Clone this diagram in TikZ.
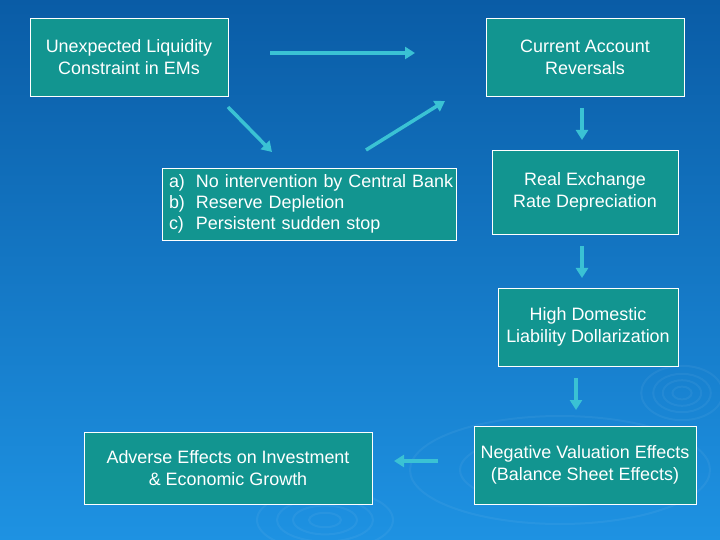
\documentclass[tikz,border=0pt]{standalone}
\usepackage{fontspec}
\setmainfont{Liberation Sans}
\usetikzlibrary{arrows.meta}
\definecolor{bgtop}{HTML}{0A5CA6}
\definecolor{bgbot}{HTML}{1E92E2}
\definecolor{boxfill}{HTML}{129590}
\definecolor{arrowc}{HTML}{3AC2D4}
\tikzset{
  box/.style={draw=white, line width=0.8bp, fill=boxfill, text=white, align=center,
    font=\fontsize{18}{22}\selectfont, inner sep=0pt},
  flow/.style={draw=arrowc, line width=3.5bp, -{Triangle[width=12bp,length=10bp]}},
  ripple/.style={draw=white, opacity=0.05, line width=2bp}
}
\begin{document}
\begin{tikzpicture}[x=1bp,y=-1bp]
\shade[top color=bgtop, bottom color=bgbot] (0,0) rectangle (720,540);
\useasboundingbox (0,0) rectangle (720,540);
% faint ripples
\foreach \r in {8,16,24,34}{
  \draw[ripple] (682,393) ellipse ({\r*1.2} and {\r*0.8});
  \draw[ripple] (325,520) ellipse ({\r*2} and {\r*0.9});
}
\foreach \r in {20,40,60}{
  \draw[ripple] (560,470) ellipse ({\r*2.5} and {\r*0.9});
}
% boxes
\node[box, minimum width=198bp, minimum height=78bp] (b1) at (129,57) {Unexpected Liquidity\\ Constraint in EMs};
\node[box, minimum width=198bp, minimum height=78bp] (b2) at (585,57) {Current Account\\ Reversals};
\node[box, minimum width=186bp, minimum height=84bp] (b3) at (585,192) {Real Exchange\\ Rate Depreciation};
\node[box, inner xsep=7bp, text width=280bp, minimum height=72bp, align=left] (b4) at (309,204)
  {\begin{tabular}{@{}l@{\hspace{11bp}}l@{}}a) & No intervention by Central Bank\\[-1bp] b) & Reserve Depletion\\[-1bp] c) & Persistent sudden stop\end{tabular}};
\node[box, minimum width=180bp, minimum height=78bp] (b5) at (588,327) {High Domestic\\ Liability Dollarization};
\node[box, minimum width=222bp, minimum height=78bp] (b6) at (585,465) {Negative Valuation Effects\\ (Balance Sheet Effects)};
\node[box, minimum width=288bp, minimum height=72bp] (b7) at (228,468) {Adverse Effects on Investment\\ \& Economic Growth};
% arrow end points
\coordinate (a1s) at (270,53);  \coordinate (a1e) at (415,53);
\coordinate (a2s) at (228,107); \coordinate (a2e) at (272,152);
\coordinate (a3s) at (366,150); \coordinate (a3e) at (445,101);
\coordinate (a4s) at (582,108); \coordinate (a4e) at (582,140);
\coordinate (a5s) at (582,246); \coordinate (a5e) at (582,278);
\coordinate (a6s) at (576,378); \coordinate (a6e) at (576,410);
\coordinate (a7s) at (438,461); \coordinate (a7e) at (394,461);
\draw[flow] (a1s) -- (a1e);
\draw[flow] (a2s) -- (a2e);
\draw[flow] (a3s) -- (a3e);
\draw[flow] (a4s) -- (a4e);
\draw[flow] (a5s) -- (a5e);
\draw[flow] (a6s) -- (a6e);
\draw[flow] (a7s) -- (a7e);
\end{tikzpicture}
\end{document}
